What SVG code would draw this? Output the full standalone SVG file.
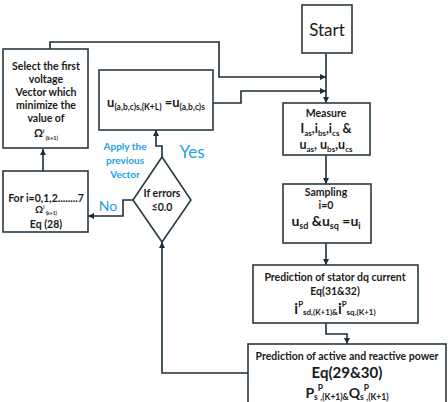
<svg xmlns="http://www.w3.org/2000/svg" width="448" height="402" viewBox="0 0 448 402">
<defs>
<style>
.box{fill:#fff;stroke:#2a3a44;stroke-width:1.6}
.ln{fill:none;stroke:#1e2e38;stroke-width:1.6}
.t{font-family:Lato,"Open Sans","Liberation Sans",sans-serif;font-weight:bold;fill:#1a1a1a;text-anchor:middle}
.b{font-family:Lato,"Open Sans","Liberation Sans",sans-serif;fill:#22a2e0;text-anchor:middle}
</style>
<marker id="ar" viewBox="0 0 10 10" refX="10" refY="5" markerWidth="6" markerHeight="6" orient="auto" markerUnits="userSpaceOnUse">
<path d="M0,0 L10,5 L0,10 z" fill="#1e2e38"/>
</marker>
</defs>
<rect width="448" height="402" fill="#fff"/>

<g id="connectors">
<path class="ln" d="M326,53 V103" marker-end="url(#ar)"/>
<path class="ln" d="M50,49 V42 H219 V77 H326" marker-end="url(#ar)"/>
<path class="ln" d="M213,103 H241 V91 H326" marker-end="url(#ar)"/>
<path class="ln" d="M326,155 V184" marker-end="url(#ar)"/>
<path class="ln" d="M326,243 V265" marker-end="url(#ar)"/>
<path class="ln" d="M326,323 V334 H347 V344" marker-end="url(#ar)"/>
<path class="ln" d="M248,373 H162 V242" marker-end="url(#ar)"/>
<path class="ln" d="M162,157 V146 H156 V130" marker-end="url(#ar)"/>
<path class="ln" d="M133,200 H123 V216 H88" marker-end="url(#ar)"/>
<path class="ln" d="M43,171 V149" marker-end="url(#ar)"/>
</g>

<g id="start">
<rect class="box" x="302" y="5" width="50" height="48"/>
<text class="t" x="327" y="36" font-size="17" style="font-weight:normal">Start</text>
</g>

<g id="measure">
<rect class="box" x="283" y="103" width="87" height="52"/>
<text class="t" x="326" y="117" font-size="10.5">Measure</text>
<text class="t" x="326" y="133" font-size="12.5">I<tspan font-size="8" dy="2.5">as</tspan><tspan dy="-2.5">,i</tspan><tspan font-size="8" dy="2.5">bs</tspan><tspan dy="-2.5">,i</tspan><tspan font-size="8" dy="2.5">cs</tspan><tspan dy="-2.5"> &amp;</tspan></text>
<text class="t" x="326" y="149" font-size="12.5">u<tspan font-size="8" dy="2.5">as</tspan><tspan dy="-2.5">, u</tspan><tspan font-size="8" dy="2.5">bs</tspan><tspan dy="-2.5">,u</tspan><tspan font-size="8" dy="2.5">cs</tspan></text>
</g>

<g id="sampling">
<rect class="box" x="283" y="184" width="88" height="59"/>
<text class="t" x="326" y="196" font-size="10.5">Sampling</text>
<text class="t" x="326" y="209" font-size="10.5">i=0</text>
<text class="t" x="326" y="226" font-size="14">u<tspan font-size="9" dy="3">sd</tspan><tspan dy="-3"> &amp;u</tspan><tspan font-size="9" dy="3">sq</tspan><tspan dy="-3"> =u</tspan><tspan font-size="9" dy="3">i</tspan></text>
</g>

<g id="stator">
<rect class="box" x="253" y="265" width="165" height="58"/>
<text class="t" x="335" y="281" font-size="10.5">Prediction of stator dq  current</text>
<text class="t" x="335" y="295" font-size="10.5">Eq(31&amp;32)</text>
<text class="t" x="335" y="314" font-size="15">i<tspan font-size="8" dy="-7">P</tspan><tspan font-size="8" dy="8">sd,(K+1)&amp;</tspan><tspan dy="-1">i</tspan><tspan font-size="8" dy="-7">P</tspan><tspan font-size="8" dy="8">sq,(K+1)</tspan></text>
</g>

<g id="power">
<rect class="box" x="248" y="344" width="198" height="70"/>
<text class="t" x="347" y="360" font-size="10.5">Prediction of active and reactive power</text>
<text class="t" x="347" y="378" font-size="15">Eq(29&amp;30)</text>
<text class="t" x="347" y="398" font-size="14">P<tspan font-size="8.5" dy="2">s</tspan><tspan font-size="8.5" dy="-9">P</tspan><tspan font-size="8.5" dx="-2" dy="9">,(K+1)&amp;</tspan><tspan dy="-2">Q</tspan><tspan font-size="8.5" dy="2">s</tspan><tspan font-size="8.5" dy="-9">P</tspan><tspan font-size="8.5" dx="-2" dy="9">,(K+1)</tspan></text>
</g>

<g id="assign">
<rect class="box" x="99" y="70" width="114" height="60"/>
<text class="t" x="156" y="107" font-size="13">u<tspan font-size="8.5" dy="3">(a,b,c)s,(K+L)</tspan><tspan dy="-3"> =u</tspan><tspan font-size="8.5" dy="3">(a,b,c)s</tspan></text>
</g>

<g id="select">
<rect class="box" x="3" y="49" width="85" height="99"/>
<text class="t" x="46" y="70" font-size="10.5">Select the first</text>
<text class="t" x="46" y="83" font-size="10.5">voltage</text>
<text class="t" x="46" y="96" font-size="10.5">Vector  which</text>
<text class="t" x="46" y="109" font-size="10.5">minimize  the</text>
<text class="t" x="46" y="122" font-size="10.5">value of</text>
<text class="t" x="46" y="137" font-size="11">Ω<tspan font-size="5.5" dy="-4">i</tspan><tspan font-size="5.5" dy="7"> (k+1)</tspan></text>
</g>

<g id="for">
<rect class="box" x="3" y="171" width="85" height="61"/>
<text class="t" x="46" y="202" font-size="10.5">For i=0,1,2........7</text>
<text class="t" x="46" y="213" font-size="10">Ω<tspan font-size="5" dy="-4">i</tspan><tspan font-size="5" dy="6"> (k+1)</tspan></text>
<text class="t" x="46" y="228" font-size="10.5">Eq (28)</text>
</g>

<g id="decision">
<polygon class="box" points="162,157 191,200 162,242 133,200"/>
<text class="t" x="162" y="197" font-size="10.5">If errors</text>
<text class="t" x="162" y="211" font-size="10.5">≤0.0</text>
</g>

<g id="labels">
<text class="b" x="125" y="150" font-size="10" font-weight="bold">Apply the</text>
<text class="b" x="125" y="164" font-size="10" font-weight="bold">previous</text>
<text class="b" x="125" y="178" font-size="10" font-weight="bold">Vector</text>
<text class="b" x="192" y="158" font-size="17">Yes</text>
<text class="b" x="108" y="211" font-size="14">No</text>
</g>
</svg>
